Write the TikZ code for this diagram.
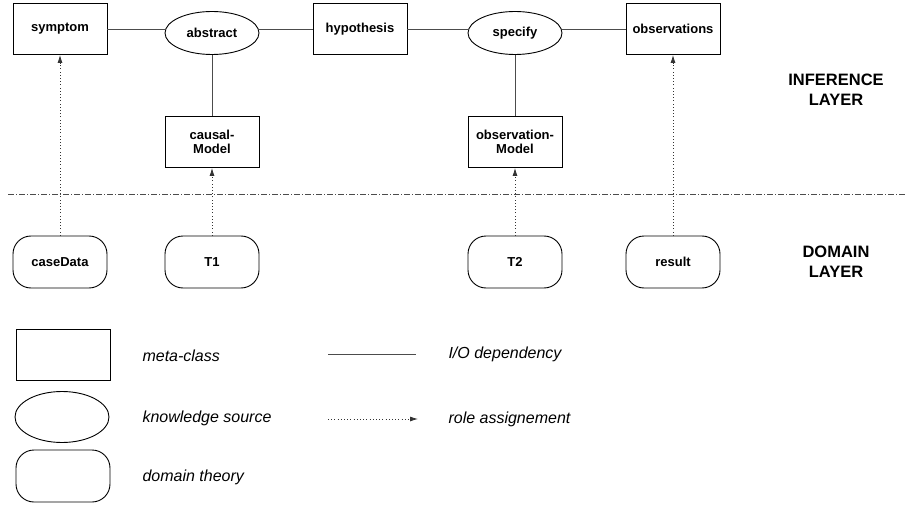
\documentclass[tikz,border=0pt]{standalone}
\usepackage{fontspec}
\setmainfont{Liberation Sans}
\usetikzlibrary{shapes.geometric,arrows.meta}

\begin{document}
\begin{tikzpicture}[x=1pt,y=1pt,yscale=-1,
  metaclass/.style={draw,line width=0.9pt,minimum width=94pt,minimum height=51pt,inner sep=0pt,align=center,font={\fontsize{13}{14.5}\selectfont\bfseries}},
  knowsource/.style={draw,ellipse,line width=0.9pt,minimum width=94pt,minimum height=43pt,inner sep=0pt,font={\fontsize{13}{14.5}\selectfont\bfseries}},
  domtheory/.style={draw,rounded corners=18pt,line width=0.9pt,minimum width=94pt,minimum height=52pt,inner sep=0pt,font={\fontsize{13}{14.5}\selectfont\bfseries}},
  iodep/.style={draw=black!70,line width=0.9pt},
  roleassign/.style={draw=black!80,line width=0.8pt,dash pattern=on 0.8pt off 2.4pt,-{Latex[length=8pt,width=5pt]}},
  layertext/.style={align=center,font={\fontsize{16.5}{20}\selectfont\bfseries}},
  legendtext/.style={anchor=west,font={\fontsize{16}{18}\selectfont\itshape}}]
\useasboundingbox (0,0) rectangle (907,505);

%inference layer
\node[metaclass] (symptom) at (60,29) {symptom};
\node[knowsource] (abstract) at (212,33) {abstract};
\node[metaclass] (hypothesis) at (360,29) {hypothesis};
\node[knowsource] (specify) at (515,33) {specify};
\node[metaclass] (observations) at (673,29) {observations};
\node[metaclass] (causalModel) at (212,142) {causal-\\Model};
\node[metaclass] (observationModel) at (515,142) {observation-\\Model};

\draw[iodep] (symptom.east) -- (abstract.west |- symptom.east);
\draw[iodep] (abstract.east |- hypothesis.west) -- (hypothesis.west);
\draw[iodep] (hypothesis.east) -- (specify.west |- hypothesis.east);
\draw[iodep] (specify.east |- observations.west) -- (observations.west);
\draw[iodep] (abstract.south) -- (causalModel.north);
\draw[iodep] (specify.south) -- (observationModel.north);

%separator
\coordinate (sepWest) at (8,194);
\coordinate (sepEast) at (907,194);
\draw[black!70,line width=0.8pt,dash pattern=on 6pt off 2pt on 1pt off 2pt] (sepWest) -- (sepEast);

%domain layer
\node[domtheory] (caseData) at (60,262) {caseData};
\node[domtheory] (T1) at (212,262) {T1};
\node[domtheory] (T2) at (515,262) {T2};
\node[domtheory] (result) at (673,262) {result};

\draw[roleassign] (caseData.north) -- (symptom.south);
\draw[roleassign] (T1.north) -- (causalModel.south);
\draw[roleassign] (T2.north) -- (observationModel.south);
\draw[roleassign] (result.north) -- (observations.south);

\node[layertext] (inferenceLayer) at (836,90) {INFERENCE\\LAYER};
\node[layertext] (domainLayer) at (836,262) {DOMAIN\\LAYER};

%legend
\node[metaclass] (keyMetaclass) at (63,355) {};
\node[knowsource,minimum height=51pt] (keyKnowsource) at (62,417) {};
\node[domtheory] (keyDomtheory) at (63,476) {};
\node[legendtext] (txtMetaclass) at (139,356) {meta-class};
\node[legendtext] (txtKnowsource) at (139,418) {knowledge source};
\node[legendtext] (txtDomtheory) at (139,477) {domain theory};

\coordinate (ioWest) at (328,354);
\coordinate (ioEast) at (416,354);
\draw[iodep] (ioWest) -- (ioEast);
\coordinate (raWest) at (328,419);
\coordinate (raEast) at (418,419);
\draw[roleassign] (raWest) -- (raEast);
\node[legendtext] (txtIodep) at (445,354) {I/O dependency};
\node[legendtext] (txtRoleassign) at (445,419) {role assignement};

\end{tikzpicture}
\end{document}
